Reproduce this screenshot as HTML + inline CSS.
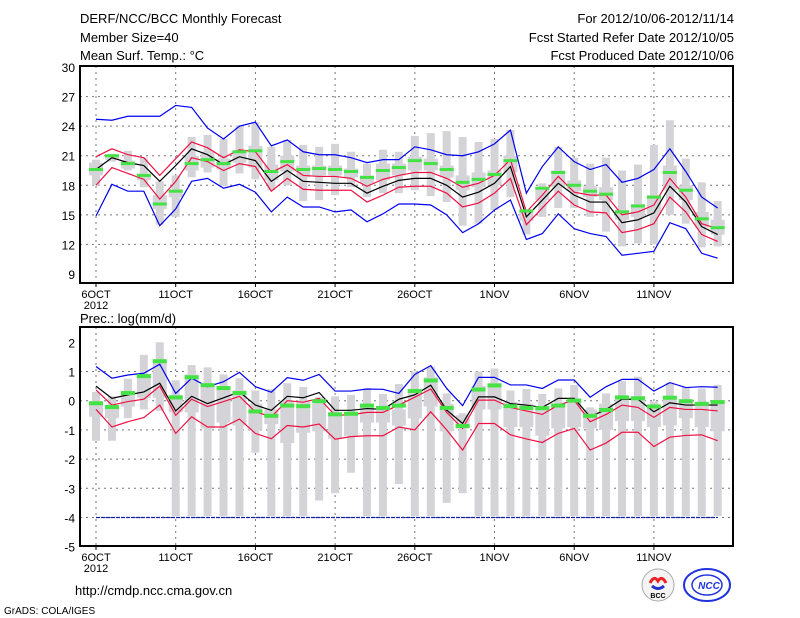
<!DOCTYPE html>
<html><head><meta charset="utf-8"><style>
body{margin:0;background:#fff;width:800px;height:618px;overflow:hidden}
svg{display:block;font-family:"Liberation Sans",sans-serif}
</style></head><body>
<svg id="c" width="800" height="618" xmlns="http://www.w3.org/2000/svg">
<text x="80" y="23" font-size="13">DERF/NCC/BCC Monthly Forecast</text>
<text x="80" y="42" font-size="13">Member Size=40</text>
<text x="80" y="60" font-size="13">Mean Surf. Temp.: °C</text>
<text x="734" y="23" font-size="13" text-anchor="end">For 2012/10/06-2012/11/14</text>
<text x="734" y="42" font-size="13" text-anchor="end">Fcst Started Refer Date 2012/10/05</text>
<text x="734" y="60" font-size="13" text-anchor="end">Fcst Produced Date 2012/10/06</text>
<text x="80" y="323" font-size="13">Prec.: log(mm/d)</text>
<text x="75" y="595" font-size="13">http://cmdp.ncc.cma.gov.cn</text>
<text x="4" y="614" font-size="10">GrADS: COLA/IGES</text>
<g><circle cx="658" cy="585" r="16" fill="#f4f4f4" stroke="#aaa"/><path d="M650 583 q4 -8 8 -2 q4 -6 8 2" stroke="#e22" stroke-width="3" fill="none"/><path d="M652 586 q6 5 12 0" stroke="#23c" stroke-width="3" fill="none"/><text x="658" y="598" font-size="7" text-anchor="middle" font-weight="bold">BCC</text></g>
<g><ellipse cx="707" cy="585" rx="23" ry="16" fill="none" stroke="#23d" stroke-width="2"/><ellipse cx="707" cy="585" rx="15" ry="10" fill="none" stroke="#23d" stroke-width="1.5"/><text x="709" y="589" font-size="10" font-style="italic" font-weight="bold" fill="#23d" text-anchor="middle">NCC</text></g>
</svg>
<script>
// ---- temperature panel data ----
const days=["6OCT","11OCT","16OCT","21OCT","26OCT","1NOV","6NOV","11NOV"];
const tMean=[19.6,20.8,20.3,20.0,18.4,20.0,21.7,21.1,20.1,20.9,20.5,18.4,19.5,18.4,18.3,18.2,18.2,17.2,17.9,18.5,18.7,18.7,18.0,16.8,17.3,18.2,19.9,14.8,16.5,18.2,17.0,16.3,16.3,14.2,14.5,15.2,17.9,16.3,13.8,13.0];
const tRedHi=[20.9,21.7,21.1,20.8,19.0,20.7,22.4,21.8,20.8,21.6,21.4,19.3,20.1,19.0,18.9,18.9,18.7,17.9,18.6,19.0,19.3,19.3,18.7,17.8,18.2,19.0,20.6,15.3,17.0,18.9,17.3,17.0,17.0,15.0,15.3,16.0,18.7,16.8,14.1,13.6];
const tRedLo=[18.0,19.8,19.2,18.6,16.6,18.4,20.8,20.4,19.5,20.2,19.9,17.4,18.7,17.6,17.5,17.5,17.5,16.3,17.0,17.8,17.9,17.9,17.2,15.8,16.2,17.2,18.7,14.0,15.7,17.4,16.0,15.3,15.2,13.2,13.5,14.1,16.8,15.3,13.0,12.3];
const tBlueHi=[24.7,24.6,25.0,25.0,25.0,26.1,25.9,23.8,22.7,24.0,24.4,22.0,22.6,21.4,21.1,21.1,20.8,20.3,20.6,20.6,21.9,21.6,21.1,21.0,21.4,22.2,23.6,17.2,19.9,21.9,20.4,19.6,20.1,18.3,18.7,19.6,21.7,19.4,16.8,15.7];
const tBlueLo=[14.9,18.1,17.4,17.4,13.9,15.6,18.4,18.7,17.7,18.1,17.3,15.3,16.8,15.8,15.8,15.3,15.5,14.3,15.1,16.1,16.1,16.0,15.0,13.2,14.1,15.5,16.5,12.5,13.1,15.1,13.6,13.1,12.8,10.9,11.1,11.3,14.2,13.6,11.1,10.6];
const tGreen=[19.6,21.0,20.2,19.0,16.1,17.4,20.2,20.6,20.2,21.4,21.5,19.4,20.4,19.6,19.7,19.6,19.4,18.8,19.5,19.8,20.5,20.2,19.6,18.3,18.6,19.1,20.5,15.4,17.7,19.3,18.0,17.4,17.1,15.3,15.9,16.8,19.3,17.5,14.6,13.7];
const tWhHi=[20.6,21.2,21.5,20.8,18.4,19.0,22.9,23.1,22.7,24.1,24.4,21.9,22.6,22.1,21.9,22.2,21.4,20.2,21.6,21.4,23.0,23.3,23.5,22.9,22.4,22.7,23.6,15.5,18.2,21.9,20.8,20.2,20.8,19.5,20.1,22.1,24.6,20.7,18.3,16.4];
const tWhLo=[18.0,20.4,19.5,17.8,14.0,14.8,18.8,19.3,17.9,19.2,18.6,17.5,18.0,16.4,16.5,17.0,17.8,16.8,17.2,17.2,17.5,16.9,16.3,13.9,14.1,15.5,16.8,13.0,14.8,15.7,15.7,14.8,13.3,11.8,12.1,12.0,15.0,14.1,11.7,11.8];
const tQ3=[20.3,21.1,20.5,19.2,17.0,17.6,21.0,21.4,20.7,21.5,22.0,20.1,21.0,20.0,20.0,20.0,19.7,19.0,20.2,20.2,20.9,20.7,20.0,19.0,19.3,19.5,21.0,15.3,17.8,19.5,18.5,17.9,17.8,15.5,16.1,17.0,20.0,18.0,15.3,14.5];
const tQ1=[19.0,20.6,19.7,18.5,15.6,16.8,19.5,19.8,19.6,20.3,19.8,18.5,19.4,18.8,19.0,19.0,18.8,18.2,18.5,19.0,19.5,19.5,18.8,17.5,17.8,18.0,19.3,14.4,16.5,17.8,17.4,16.8,16.5,14.5,14.8,15.0,17.5,16.5,13.7,13.0];
const tTicks=[9,12,15,18,21,24,27,30];
// ---- precipitation panel data ----
const pMean=[0.5,0.08,0.2,0.3,0.6,-0.35,0.15,-0.1,0.1,0.3,-0.15,-0.33,0.15,0.1,0.28,-0.33,-0.33,-0.27,-0.3,0.05,0.2,0.53,-0.32,-0.78,0.13,0.13,-0.1,-0.15,-0.23,0.08,0.08,-0.55,-0.3,0.05,0.05,-0.38,-0.07,-0.15,-0.15,-0.15];
const pRedHi=[0.37,-0.15,-0.03,0.05,0.5,-0.5,0.05,-0.2,-0.03,0.15,-0.38,-0.55,0,-0.05,0.08,-0.5,-0.48,-0.4,-0.4,-0.15,0.12,0.4,-0.4,-0.95,0.02,0.02,-0.23,-0.35,-0.47,-0.15,0.02,-0.72,-0.47,-0.15,-0.23,-0.57,-0.23,-0.3,-0.3,-0.35];
const pRedLo=[-0.3,-0.9,-0.72,-0.58,-0.15,-1.12,-0.55,-0.9,-0.9,-0.63,-1.12,-1.3,-0.85,-0.9,-0.8,-1.32,-1.23,-1.2,-1.2,-0.9,-1.0,-0.38,-1.0,-1.69,-0.78,-0.78,-1.17,-1.31,-1.43,-1.12,-0.95,-1.69,-1.45,-1.08,-1.08,-1.57,-1.25,-1.19,-1.17,-1.37];
const pBlueHi=[1.17,0.77,0.88,0.94,1.25,0.25,0.77,0.48,0.65,0.97,0.48,0.29,0.79,0.7,0.9,0.33,0.33,0.4,0.39,0.25,0.9,1.2,0.42,-0.17,0.8,0.8,0.54,0.54,0.42,0.71,0.71,0.12,0.48,0.73,0.73,0.33,0.62,0.45,0.48,0.46];
const pBlueLo=new Array(40).fill(-4);
const pGreen=[-0.07,-0.2,0.28,0.86,1.37,0.13,0.82,0.55,0.45,0.28,-0.35,-0.5,-0.15,-0.17,0,-0.45,-0.43,-0.15,-0.23,-0.15,0.35,0.71,-0.23,-0.85,0.4,0.54,-0.17,-0.23,-0.24,-0.15,0.02,-0.5,-0.3,0.13,0.1,-0.18,0.12,0,-0.09,-0.03];
const pWhHi=[0.3,0.15,0.75,1.57,2.0,0.7,1.22,1.14,0.9,0.77,0.35,0.4,0.6,0.47,0.13,0.15,0.2,0.42,0.23,0.57,1.0,1.17,0.25,-0.43,1.0,1.1,0.35,0.4,0.23,0.42,0.54,-0.23,0.25,0.68,0.82,-0.03,0.62,0.47,0.42,0.54];
const pWhLo=[-1.37,-1.37,-0.6,-0.3,-0.35,-3.95,-3.95,-3.95,-3.95,-3.95,-1.78,-3.95,-3.95,-3.95,-3.42,-3.17,-2.47,-3.95,-3.95,-2.85,-3.95,-3.95,-3.5,-3.17,-3.95,-3.95,-3.95,-3.95,-3.95,-3.95,-3.95,-3.95,-3.95,-3.95,-3.95,-3.95,-3.95,-3.95,-3.95,-3.95];
const pQ3=[-0.05,-0.15,0.3,0.85,1.4,0.2,0.9,0.6,0.5,0.35,-0.1,-0.3,0.0,0.0,-0.1,-0.4,-0.4,-0.1,-0.3,-0.3,0.4,0.8,-0.1,-0.5,0.5,0.6,-0.05,-0.1,-0.2,-0.1,0.0,-0.3,-0.1,0.1,0.15,-0.2,0.1,0.0,-0.1,-0.05];
const pQ1=[-0.55,-0.6,-0.2,0.1,0.1,-0.4,-0.4,-0.95,-0.75,-0.85,-1.0,-0.8,-1.45,-1.1,-1.05,-1.3,-1.2,-0.75,-0.75,-0.85,-0.6,-0.2,-1.05,-0.95,-0.3,-0.3,-0.9,-0.9,-1.2,-0.95,-0.9,-0.95,-1.0,-0.7,-0.7,-0.9,-0.85,-0.6,-0.9,-1.05];
const pTicks=[-5,-4,-3,-2,-1,0,1,2];

const svg=document.getElementById('c');
const NS='http://www.w3.org/2000/svg';
function mk(tag,attrs,parent){const e=document.createElementNS(NS,tag);for(const k in attrs)e.setAttribute(k,attrs[k]);(parent||svg).appendChild(e);return e;}
const xs=i=>96+15.94*i;

function panel(cfg){
  const {top,bottom,vmin,vmax,yTop,yBot,ticks,name}=cfg;
  const ys=v=>yTop+(vmax-v)/(vmax-vmin)*(yBot-yTop);
  const g=mk('g',{});
  
  
  ticks.forEach(t=>{
    if(t!==vmin&&t!==vmax){const l=mk('line',{x1:80,x2:733,y1:ys(t),y2:ys(t),stroke:'#777','stroke-dasharray':'2,4','stroke-width':1},g);
    
    }
    const tx=mk('text',{x:75,y:ys(t)+5,'font-size':12,'text-anchor':'end'},g);tx.textContent=t;
    
    
  });
  days.forEach((d,k)=>{
    const x=xs(k*5);
    const l=mk('line',{x1:x,x2:x,y1:top,y2:bottom,stroke:'#777','stroke-dasharray':'2,4'},g);
    
    
    mk('line',{x1:x,x2:x,y1:bottom,y2:bottom+4,stroke:'#000'},g);
    const tx=mk('text',{x:x,y:bottom+15,'font-size':11,'text-anchor':'middle'},g);tx.textContent=d;
    
    
  });
  const yr=mk('text',{x:96,y:bottom+26,'font-size':11,'text-anchor':'middle'},g);yr.textContent='2012';
  
  
  cfg.whHi.forEach((v,i)=>{
    const x=xs(i);
    const w=mk('rect',{x:x-4,y:ys(v),width:8,height:ys(cfg.whLo[i])-ys(v),fill:'#d4d4d8'},g);
    
    
    const b=mk('rect',{x:x-7,y:ys(cfg.q3[i]),width:14,height:ys(cfg.q1[i])-ys(cfg.q3[i]),fill:'#d4d4d8'},g);
    
    
  });
  const line=(arr,col,nm,dash)=>{const p=mk('polyline',{points:arr.map((v,i)=>xs(i)+','+ys(v)).join(' '),fill:'none',stroke:col,'stroke-width':1.2},g);
    if(dash)p.setAttribute('stroke-dasharray',dash);
    
    };
  line(cfg.blueHi,'#0000ee',name+'-max-line');
  line(cfg.blueLo,cfg.loCol||'#0000ee',name+'-min-line',cfg.loDash);
  line(cfg.redHi,'#ee1144',name+'-upper-line');
  line(cfg.redLo,'#ee1144',name+'-lower-line');
  line(cfg.mean,'#000',name+'-mean-line');
  cfg.green.forEach((v,i)=>{const r=mk('rect',{x:xs(i)-7,y:ys(v)-1.5,width:14,height:cfg.gh,fill:'#44e244'},g);
    
    });
  const f=mk('rect',{x:80,y:top,width:653,height:bottom-top,fill:'none',stroke:'#000','stroke-width':2},g);
  
  
}
panel({name:'temperature',top:66,bottom:283,vmin:9,vmax:30,yTop:67,yBot:274,ticks:tTicks,mean:tMean,redHi:tRedHi,redLo:tRedLo,blueHi:tBlueHi,blueLo:tBlueLo,green:tGreen,whHi:tWhHi,whLo:tWhLo,q3:tQ3,q1:tQ1,gh:3});
panel({name:'precipitation',top:327,bottom:546,vmin:-5,vmax:2,yTop:342.3,yBot:546.7,ticks:pTicks,mean:pMean,redHi:pRedHi,redLo:pRedLo,blueHi:pBlueHi,blueLo:pBlueLo,green:pGreen,whHi:pWhHi,whLo:pWhLo,q3:pQ3,q1:pQ1,gh:4,loCol:'#1122aa',loDash:'4,1'});
</script>
</body></html>
